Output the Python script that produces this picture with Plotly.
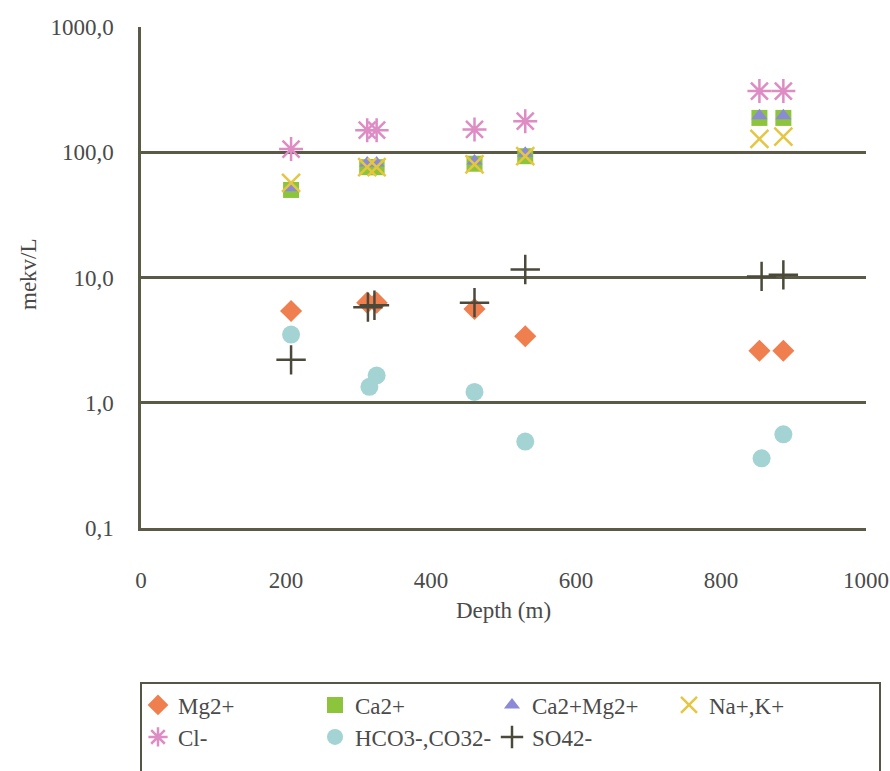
import plotly.graph_objects as go

# ---- data ----
depth_mg = [207, 312, 325, 460, 530, 853, 886]
mg = [5.4, 6.3, 6.3, 5.6, 3.4, 2.6, 2.6]

depth_ca = [207, 312, 325, 460, 530, 853, 886]
ca = [50, 76, 76, 81, 93, 188, 188]

depth_camg = [207, 312, 325, 460, 530, 853, 886]
camg = [52, 82, 82, 85, 98, 196, 196]

depth_nak = [207, 312, 325, 460, 530, 853, 886]
nak = [57, 76, 76, 80, 93, 128, 133]

depth_cl = [207, 312, 325, 460, 530, 853, 886]
cl = [106, 150, 150, 152, 177, 308, 308]

depth_hco3 = [207, 315, 325, 460, 530, 856, 886]
hco3 = [3.5, 1.34, 1.65, 1.22, 0.49, 0.36, 0.56]

depth_so4 = [207, 313, 322, 460, 530, 856, 886]
so4 = [2.2, 5.8, 6.0, 6.3, 11.6, 10.2, 10.5]

x_ticks = [0, 200, 400, 600, 800, 1000]
y_tickvals = [0.1, 1, 10, 100, 1000]
y_ticktext = ["0,1", "1,0", "10,0", "100,0", "1000,0"]

FONT = "Liberation Serif"
TXT = "#4a4a4a"
GRID = "#5a5a46"
FS = 23

W, H = 890, 771
L, R, T, B = 141, 866, 27, 528

fig = go.Figure()

series = [
    ("Mg2+", depth_mg, mg, dict(symbol="diamond", color="#f07f4f", size=17), "legend"),
    ("Ca2+", depth_ca, ca, dict(symbol="square", color="#8cc43c", size=16), "legend"),
    ("Ca2+Mg2+", depth_camg, camg, dict(symbol="triangle-up", color="#8a8ad6", size=14), "legend"),
    ("Na+,K+", depth_nak, nak, dict(symbol="x-thin-open", color="#e6c640", size=18,
                                      line=dict(width=2.5, color="#e6c640")), "legend"),
    ("Cl-", depth_cl, cl, dict(symbol="asterisk-open", color="#de8cc4", size=20,
                               line=dict(width=2.5, color="#de8cc4")), "legend2"),
    ("HCO3-,CO32-", depth_hco3, hco3, dict(symbol="circle", color="#a3d3d3", size=18), "legend2"),
    ("SO42-", depth_so4, so4, dict(symbol="cross-thin-open", color="#4b4a3a", size=21,
                                   line=dict(width=2.5, color="#4b4a3a")), "legend2"),
]

for name, xs, ys, mk, lg in series:
    fig.add_trace(go.Scatter(x=xs, y=ys, mode="markers", name=name, marker=mk,
                             legend=lg, cliponaxis=False))

pw = R - L
ph = B - T


def px_x(p):
    return (p - L) / pw


def px_y(p):
    return (B - p) / ph


# legend frame (extends below the picture as in the reference)
fig.add_shape(type="rect", xref="paper", yref="paper",
              x0=px_x(141), x1=px_x(880), y0=px_y(683), y1=px_y(820),
              line=dict(color="#555548", width=2), fillcolor="rgba(0,0,0,0)")

# y-axis title placed like the reference
fig.add_annotation(text="mekv/L", xref="paper", yref="paper", x=px_x(28), y=px_y(274),
                   xanchor="center", yanchor="middle", textangle=-90, showarrow=False,
                   font=dict(family=FONT, size=FS, color=TXT))

leg_common = dict(orientation="h", xref="container", yref="container",
                  xanchor="left", yanchor="middle", entrywidth=132,
                  entrywidthmode="pixels", font=dict(family=FONT, size=FS, color=TXT),
                  bgcolor="rgba(0,0,0,0)", itemwidth=30, tracegroupgap=0)

fig.update_layout(
    width=W, height=H,
    margin=dict(l=L, r=W - R, t=T, b=H - B, autoexpand=False),
    paper_bgcolor="white", plot_bgcolor="white",
    font=dict(family=FONT, size=FS, color=TXT),
    showlegend=True,
    legend=dict(x=138 / W, y=1 - 705 / H, **leg_common),
    legend2=dict(x=138 / W, y=1 - 737 / H, **leg_common),
    xaxis=dict(range=[0, 1000], tickvals=x_ticks, showgrid=False, zeroline=False,
               showline=True, linecolor=GRID, linewidth=2.5, ticks="",
               ticklabelstandoff=30, tickfont=dict(family=FONT, size=FS, color=TXT),
               title=dict(text="Depth (m)", standoff=10,
                          font=dict(family=FONT, size=FS, color=TXT))),
    yaxis=dict(type="log", range=[-1, 3], tickvals=y_tickvals, ticktext=y_ticktext,
               showgrid=True, gridcolor=GRID, gridwidth=2.5, zeroline=False,
               showline=True, linecolor=GRID, linewidth=2.5, ticks="",
               ticklabelstandoff=20, tickfont=dict(family=FONT, size=FS, color=TXT)),
)

fig.write_html("out.html")
